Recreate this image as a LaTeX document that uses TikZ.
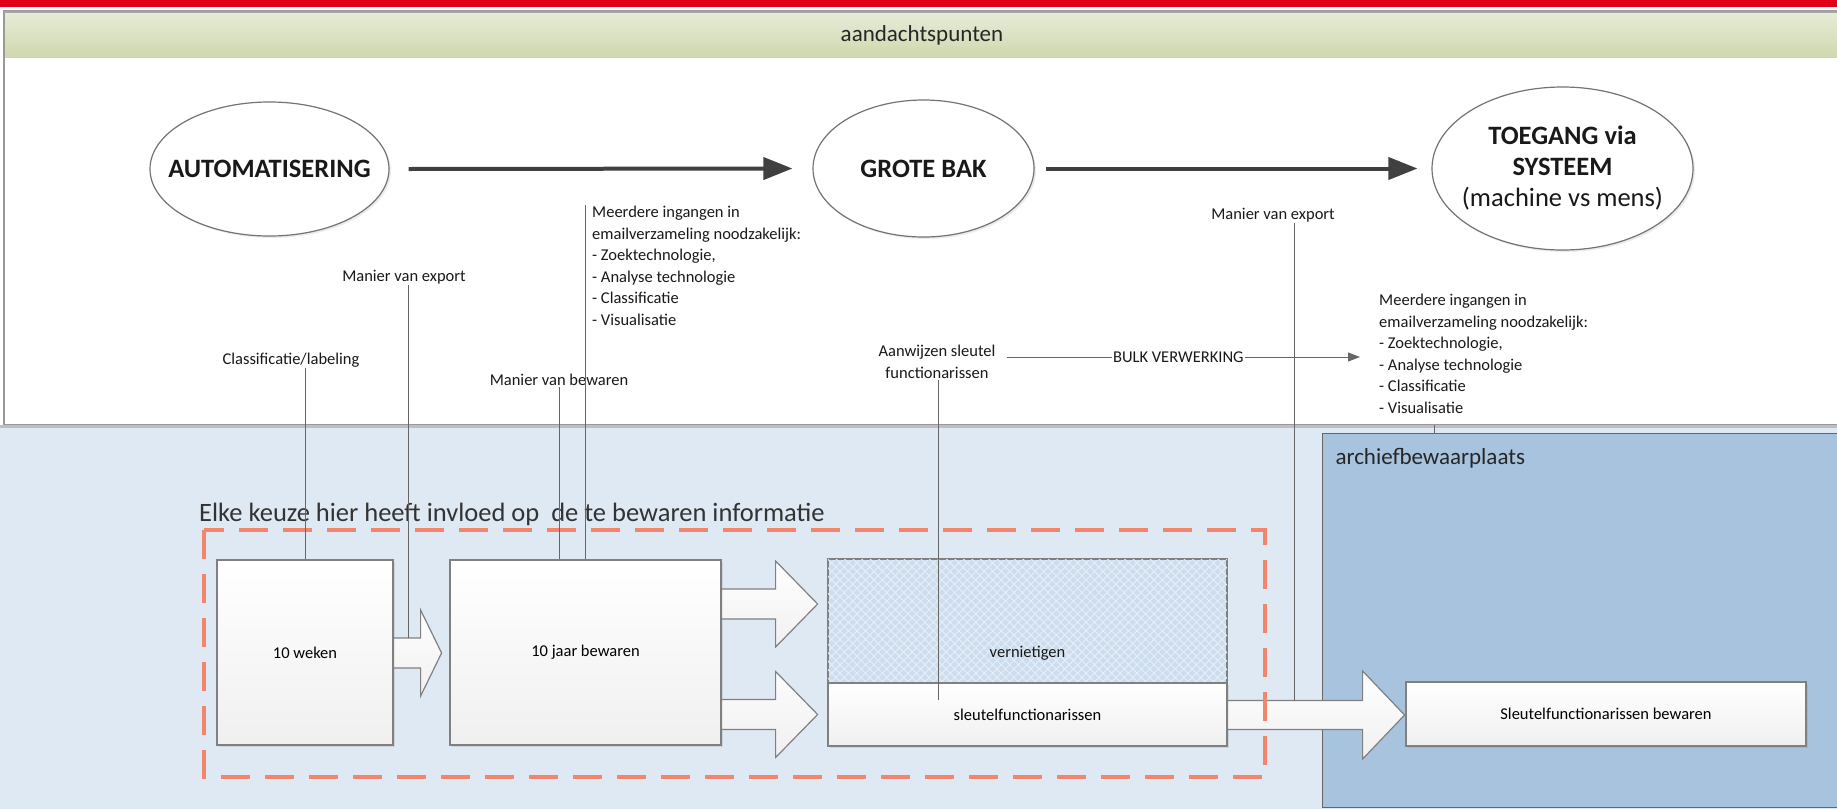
\documentclass[tikz,border=0pt]{standalone}
\usepackage{fontspec}
\setmainfont{Carlito}
\usetikzlibrary{arrows.meta,shapes.geometric,shadows,patterns.meta,positioning}
\definecolor{redbar}{HTML}{E2001A}
\definecolor{hdrtop}{HTML}{E7ECD8}
\definecolor{hdrbot}{HTML}{CFD8AE}
\definecolor{lightbg}{HTML}{DFE9F3}
\definecolor{archief}{HTML}{A7C3DE}
\definecolor{dashorange}{HTML}{F2866C}
\definecolor{crossblue}{HTML}{CCDDEF}
\definecolor{crossline}{HTML}{E6EEF7}
\begin{document}
\begin{tikzpicture}[x=1pt,y=-1pt,
    oval/.style={ellipse,draw=black!55,line width=1.2pt,fill=white,
      drop shadow={opacity=.15,shadow xshift=2pt,shadow yshift=-2pt}},
    ovaltext/.style={font=\bfseries\fontsize{26.5}{31}\selectfont,align=center,text=black!90},
    flowarrow/.style={draw=black!75,line width=4pt,-{Triangle[length=29pt,width=22pt]}},
    note/.style={font=\fontsize{16.5}{21.5}\selectfont,text=black!90,inner sep=1pt},
    lead/.style={draw=black!60,line width=1pt},
    stagebox/.style={draw=black!50,line width=1.2pt,top color=white,bottom color=black!6,
      font=\fontsize{16.5}{20}\selectfont,drop shadow={opacity=.2,shadow xshift=2pt,shadow yshift=-2pt}},
    crossbox/.style={draw=black!50,line width=1.2pt,preaction={fill=crossblue},
      pattern={Lines[angle=45,distance=6pt,line width=1pt]},pattern color=crossline,
      postaction={pattern={Lines[angle=-45,distance=6pt,line width=1pt]},pattern color=crossline}},
    blockarrow/.style={draw=black!50,line width=1.2pt,top color=white,bottom color=black!6},
    choice/.style={draw=dashorange,line width=3.5pt,dash pattern=on 29pt off 15pt}]
  \useasboundingbox (0,0) rectangle (1837,809);

  % page background, header and the two areas
  \fill[redbar] (0,0) rectangle (1837,7);
  \fill[lightbg] (0,425) rectangle (1837,809);
  \draw[draw=black!40,line width=1.5pt,fill=white] (4,11) rectangle (1845,425);
  \shade[top color=hdrtop,bottom color=hdrbot] (5,12) rectangle (1845,57);
  \draw[draw=black!35,line width=2pt] (4,11.5) -- (1845,11.5);
  \draw[draw=black!25,line width=3pt] (0,426) -- (1837,426);
  \node[font=\fontsize{23}{27}\selectfont,text=black!85] (hdr) at (922,35) {aandachtspunten};
  \node[draw=black!60,line width=1.2pt,fill=archief,minimum width=523pt,minimum height=374pt,
    anchor=north west] (archief) at (1322,433) {};
  \node[font=\fontsize{23}{27}\selectfont,text=black!85,anchor=west] (archl) at (1332,458) {archiefbewaarplaats};

  % the three stages on top
  \foreach \name/\x/\y/\w/\h in {auto/269.5/169/239/134,grote/923.5/168.5/221/137,toegang/1562.5/168.5/261/163}
    \node[oval,minimum width=\w pt,minimum height=\h pt] (\name) at (\x,\y) {};
  \node[ovaltext] (autol) at (auto) {AUTOMATISERING};
  \node[ovaltext] (grotel) at (grote) {GROTE BAK};
  \node[ovaltext] (toegangl) at (toegang) {TOEGANG via\\SYSTEEM\\\mdseries(machine vs mens)};
  \draw[flowarrow] ([xshift=19pt]auto.east) -- ([xshift=-20pt]grote.west);
  \draw[flowarrow] ([xshift=11pt]grote.east) -- ([xshift=-14pt]toegang.west);

  % notes
  \node[note] (exportl) at (404,277) {Manier van export};
  \node[note] (classl) at (291,360) {Classificatie/labeling};
  \node[note] (bewarenl) at (559,380) {Manier van bewaren};
  \node[note,align=left,anchor=north west,inner xsep=7pt] (meerl) at (585,205)
    {Meerdere ingangen in\\emailverzameling noodzakelijk:\\- Zoektechnologie,\\- Analyse technologie\\- Classificatie\\- Visualisatie};
  \node[note,align=center] (aanwl) at (937,362) {Aanwijzen sleutel\\functionarissen};
  \node[note] (exportr) at (1273,215) {Manier van export};
  \node[note,align=left,anchor=north west] (meerr) at (1378,293)
    {Meerdere ingangen in\\emailverzameling noodzakelijk:\\- Zoektechnologie,\\- Analyse technologie\\- Classificatie\\- Visualisatie};

  % bewaartermijnen
  \node[font=\fontsize{26.5}{30}\selectfont,text=black!80,anchor=base west,inner sep=0pt] (keuze) at (199,521)
    {Elke keuze hier heeft invloed op~ de te bewaren informatie};
  \node[stagebox,minimum width=176pt,minimum height=185pt] (weken) at (305,652.5) {10 weken};
  \node[stagebox,minimum width=271pt,minimum height=185pt] (jaar) at (585.5,652.5) {10 jaar bewaren};
  \node[crossbox,minimum width=399pt,minimum height=124pt] (vern) at (1027.5,621) {};
  \node[note] (vernl) at (1027.5,653) {vernietigen};
  \node[stagebox,minimum width=399pt,minimum height=63pt] (sleutel) at (1027.5,714.5) {sleutelfunctionarissen};
  \node[stagebox,minimum width=400pt,minimum height=64pt] (skbewaren) at (1606,714) {Sleutelfunctionarissen bewaren};
  \foreach \from/\dy/\body/\tip/\s/\h in {weken/0.5/27/21/15/43,jaar/-48.5/54/42/15/43,jaar/62/54/42/15/43,sleutel/0.5/135/42/14.5/44}
    \draw[blockarrow] (\from.east) ++(0,\dy) ++(0,-\s) -- ++(\body,0) -- ++(0,\s-\h) -- ++(\tip,\h)
      -- ++(-\tip,\h) -- ++(0,\s-\h) -- ++(-\body,0) -- cycle;
  \draw[choice] (204,530) rectangle (1265,777);

  % lines from the notes
  \coordinate (exportend) at (408,638);
  \coordinate (aanwend) at (938,700);
  \coordinate (exportrend) at (1294,700.5);
  \coordinate (bulkend) at (1360,357);
  \coordinate (tick) at (1434,425);
  \draw[lead] (weken.north |- classl.south) -- (weken.north);
  \draw[lead] (exportend |- exportl.south) -- (exportend);
  \draw[lead] (bewarenl.south) -- (bewarenl.south |- jaar.north);
  \draw[lead] (meerl.north west) -- (meerl.north west |- jaar.north);
  \draw[lead] (aanwend |- aanwl.south) -- (aanwend);
  \draw[lead] (exportrend |- exportr.south) -- (exportrend);
  \draw[lead] (tick) -- (tick |- archief.north);
  \draw[lead,shorten <=10pt,-{Triangle[length=12pt,width=9pt]}] (aanwl.east |- bulkend) --
    node[note,fill=white] (bulkl) {BULK VERWERKING} (bulkend);
\end{tikzpicture}
\end{document}
